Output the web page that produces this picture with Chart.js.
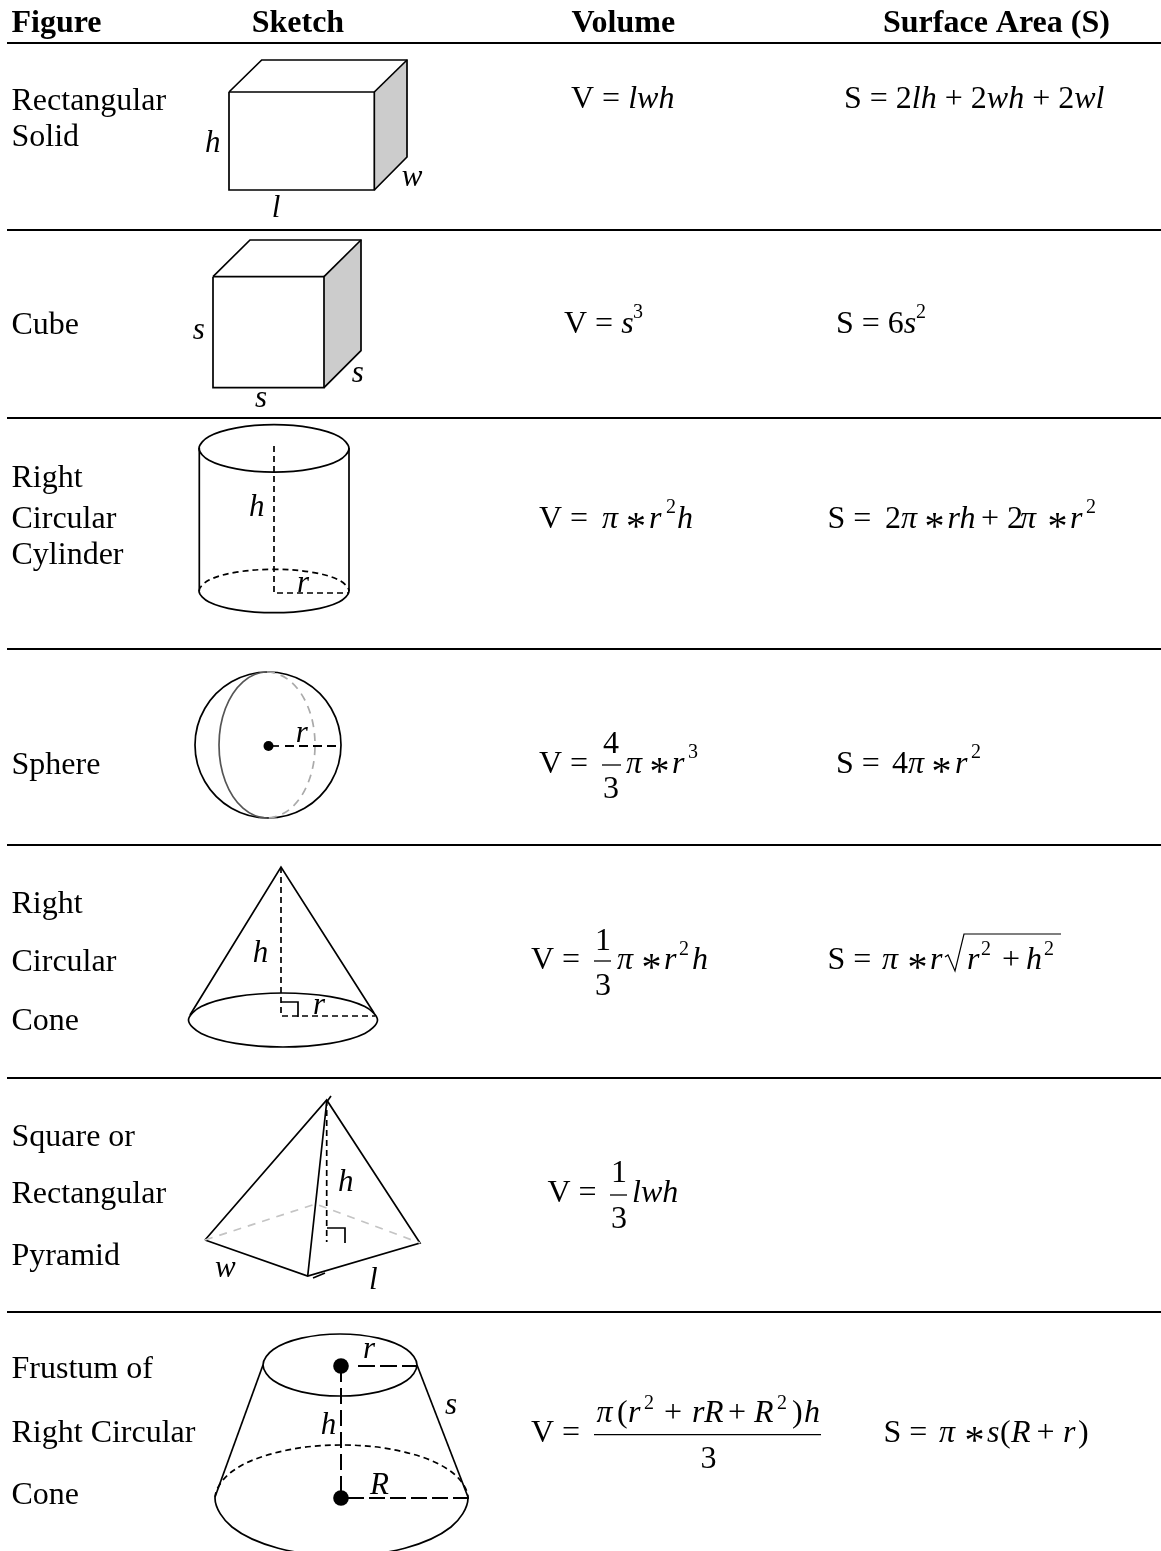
<!DOCTYPE html>
<html>
<head>
<meta charset="utf-8">
<title>Volume and Surface Area Formulas</title>
<script src="https://cdn.jsdelivr.net/npm/chart.js@4"></script>
<style>
html,body{margin:0;padding:0;background:#fff}
canvas{display:block}
</style>
</head>
<body>
<canvas id="c" width="1161" height="1551"></canvas>
<script>
/* ---------- text content ---------- */
const columnHeaders = ['Figure', 'Sketch', 'Volume', 'Surface Area (S)'];
const figureNames = ['Rectangular','Solid','Cube','Right','Circular','Cylinder','Sphere','Right','Circular','Cone','Square or','Rectangular','Pyramid','Frustum of','Right Circular','Cone'];
const sketchLabels = ['h','w','l','s','s','s','h','r','r','h','r','h','w','l','r','s','h','R'];

/* ---------- text anchors (x, baseline y) ---------- */
const headerAnchors = [[11.5,32],[251.7,32],[571.4,32],[883,32]];
const figureAnchors = [[11.5,110],[11.5,146],[11.5,334],[11.5,487],[11.5,528],[11.5,564],[11.5,774],[11.5,913],[11.5,971],[11.5,1030],[11.5,1146],[11.5,1203],[11.5,1265],[11.5,1378],[11.5,1442],[11.5,1504]];
const sketchAnchors = [[205,152],[401.7,186],[271.7,217],[192.7,339],[351.7,381.7],[255,406.7],[249,516],[297,592],[295.7,741.7],[252.7,961.7],[313,1014],[338,1190.7],[215,1276.7],[369,1289],[363,1358],[445,1414],[320.7,1434],[370,1494]];

/* ---------- formula runs: [text, style, x (null = follow on), baseline y (null = same)] ---------- */
const formulaRuns = [
  ['V = ','r',571,108],['lwh','i'],
  ['S = 2','r',844,108],['lh','i'],[' + 2','r'],['wh','i'],[' + 2','r'],['wl','i'],
  ['V = ','r',564,333],['s','i'],['3','s',633,318],
  ['S = 6','r',836,333],['s','i'],['2','s',916,318],
  ['V = ','r',539,528],['π','i',602],['*','a',626],['r','i',649],['2','s',666,513],['h','i',677,528],
  ['S = ','r',827.5,528],['2','r',885],['π','i',901],['*','a',924.5],['rh','i',947.5],['+','r',981],['2','r',1007],['π','i',1020],['*','a',1047.5],['r','i',1070],['2','s',1086,513],
  ['V = ','r',539,773],['4','r',603,753],['3','r',603,798],['π','i',626,773],['*','a',649.5],['r','i',672],['3','s',688,758],
  ['S = ','r',836,773],['4','r',892],['π','i',908],['*','a',931.5],['r','i',955],['2','s',971,758],
  ['V = ','r',531,969],['1','r',595,950],['3','r',595,995],['π','i',617,969],['*','a',641.5],['r','i',664],['2','s',679,955],['h','i',692,969],
  ['S = ','r',827.5,969],['π','i',882],['*','a',907.5],['r','i',930],['r','i',967],['2','s',981,955],['+','r',1002,969],['h','i',1026],['2','s',1044,955],
  ['V = ','r',547.5,1202],['1','r',611,1182],['3','r',611,1228],['lwh','i',632,1202],
  ['V = ','r',531,1441.5],['π','i',596.5,1422],['(','r',617],['r','i',628],['2','s',644,1409],['+','r',664,1422],['r','i',692],['R','i',704],['+','r',728],['R','i',754],['2','s',777,1409],[')','r',792,1422],['h','i',804],['3','r',700.6,1467.5],
  ['S = ','r',883.5,1441.5],['π','i',939],['*','a',964.5],['s','i',987],['(','r',1000],['R','i',1011],['+','r',1036.5],['r','i',1063],[')','r',1078]
];

/* ---------- table rules ---------- */
const ruleRows = [43,230,418,649,845,1078,1312];
const ruleStart = 7, ruleEnd = 1161;

/* ---------- grey faces ---------- */
const solidFace = [[374.3,92],[407,60],[407,157],[374.3,190],[374.3,92]];
const cubeFace  = [[324,276.7],[361,240],[361,350.7],[324,387.7],[324,276.7]];

/* ---------- straight outlines ---------- */
const solidFront = [[229,92],[374.3,92],[374.3,190],[229,190],[229,92]];
const solidTop   = [[229,92],[261.7,60],[407,60],[407,157],[374.3,190]];
const solidEdge  = [[374.3,92],[407,60]];
const cubeFront  = [[213,276.7],[324,276.7],[324,387.7],[213,387.7],[213,276.7]];
const cubeTop    = [[213,276.7],[250,240],[361,240],[361,350.7],[324,387.7]];
const cubeEdge   = [[324,276.7],[361,240]];
const cylLeft    = [[199.3,448],[199.3,591]];
const cylRight   = [[349,448],[349,591]];
const coneSides  = [[190,1015],[281,867],[374,1013]];
const coneMark   = [[281,1002],[298,1002],[298,1017]];
const pyrOutline = [[205,1240],[326.7,1100],[420,1243],[307.7,1276],[205,1240]];
const pyrRidge   = [[331,1096],[326.7,1102],[307.7,1276]];
const pyrMark    = [[327,1228],[345,1228],[345,1243]];
const pyrTick    = [[313,1278],[325,1273]];
const frustLeft  = [[263,1365],[215,1497]];
const frustRight = [[417,1365],[468,1497]];
const sqrtSign   = [[945,957],[948,955],[955,971],[964,934],[1061,934]];
const sphereBar  = [[268,746],[279,746]];

/* ---------- fraction bars ---------- */
const fractionBars = [[[602,765],[621,765]],[[594,961],[611,961]],[[610,1195],[627,1195]],[[594,1434.6],[821,1434.6]]];

/* ---------- dashed lines ---------- */
const cylAxis    = [[274,446],[274,593],[349,593]];
const sphereDash = [[285,746],[340,746]];
const coneAxis   = [[281,867],[281,1016],[375,1016]];
const pyrAxis    = [[326.7,1100],[326.7,1242]];
const pyrBack    = [[205,1240],[315.7,1204],[420,1243]];
const frustAxis  = [[341,1366],[341,1498]];
const frustSmall = [[358,1366],[417,1366]];
const frustLarge = [[348,1498],[470,1498]];

/* ---------- curved outlines: the first and last point of each only steer the spline ---------- */
const cylTop = [[209,460.3],[199,448.4],[209,436.5],[236.5,427.9],[274,424.7],[311.5,427.9],[339,436.5],[349,448.4],[339,460.3],[311.5,468.9],[274,472.1],[236.5,468.9],[209,460.3],[199,448.4],[209,436.5]];
const cylFront = [[209,580.1],[199,591],[209,601.9],[236.5,609.8],[274,612.7],[311.5,609.8],[339,601.9],[349,591],[339,580.1]];
const cylBack = [[209,601.9],[199,591],[209,580.1],[236.5,572.2],[274,569.3],[311.5,572.2],[339,580.1],[349,591],[339,601.9]];
const sphereOutline = [[204.8,781.5],[195,745],[204.8,708.5],[231.5,681.8],[268,672],[304.5,681.8],[331.2,708.5],[341,745],[331.2,781.5],[304.5,808.2],[268,818],[231.5,808.2],[204.8,781.5],[195,745],[204.8,708.5]];
const sphereNear = [[291,681.8],[267,672],[243,681.8],[225.4,708.5],[219,745],[225.4,781.5],[243,808.2],[267,818],[291,808.2]];
const sphereFar = [[243,681.8],[267,672],[291,681.8],[308.6,708.5],[315,745],[308.6,781.5],[291,808.2],[267,818],[243,808.2]];
const coneBase = [[201.2,1033.5],[188.5,1020],[201.2,1006.5],[235.75,996.6],[283,993],[330.25,996.6],[364.8,1006.5],[377.5,1020],[364.8,1033.5],[330.25,1043.4],[283,1047],[235.75,1043.4],[201.2,1033.5],[188.5,1020],[201.2,1006.5]];
const frustTop = [[273.3,1380.5],[263,1365],[273.3,1349.5],[301.5,1338.2],[340,1334],[378.5,1338.2],[406.7,1349.5],[417,1365],[406.7,1380.5],[378.5,1391.8],[340,1396],[301.5,1391.8],[273.3,1380.5],[263,1365],[273.3,1349.5]];
const frustFront = [[232,1471.5],[215,1498],[232,1527],[278.25,1548.2],[341.5,1556],[404.75,1548.2],[451,1527],[468,1498],[451,1471.5]];
const frustBack = [[232,1527],[215,1498],[232,1471.5],[278.25,1452.1],[341.5,1445],[404.75,1452.1],[451,1471.5],[468,1498],[451,1527]];

/* ---------- centre dots ---------- */
const smallDots = [[268.5,746]];
const largeDots = [[341,1366],[341,1498]];

/* ---------- dataset builders ---------- */
const toPts = a => a.map(p => ({x:p[0], y:p[1]}));
const datasets = [];
function line(arr, o) {
  datasets.push(Object.assign({
    type:'line', data:toPts(arr), borderColor:'#000', borderWidth:1.7,
    pointRadius:0, fill:false, tension:0, clip:false, borderCapStyle:'butt', borderJoinStyle:'miter',
    order:-datasets.length
  }, o || {}));
}
function curve(arr, o) {
  const last = arr.length - 1;
  line(arr, Object.assign({
    tension:0.35,
    segment:{borderColor: c => (c.p0DataIndex === 0 || c.p1DataIndex === last) ? 'transparent' : undefined}
  }, o || {}));
}
const dash = b => ({borderDash:b, borderWidth:1.7});

ruleRows.forEach(y => line([[ruleStart,y],[ruleEnd,y]], {borderWidth:2}));

[solidFace, cubeFace].forEach(a => line(a, {fill:'shape', backgroundColor:'#cccccc', borderWidth:0, borderColor:'#cccccc'}));
[solidFront, solidTop, solidEdge, cubeFront, cubeTop, cubeEdge, cylLeft, cylRight, coneSides, coneMark, pyrOutline, pyrRidge, pyrMark, pyrTick, frustLeft, frustRight, sphereBar].forEach(a => line(a));
line(sqrtSign, {borderWidth:1.2});
fractionBars.forEach(a => line(a, {borderWidth:1.3}));

line(cylAxis, dash([6,4]));
line(coneAxis, dash([6,4]));
line(pyrAxis, dash([6,4]));
line(pyrBack, {borderDash:[8,7], borderColor:'#c4c4c4'});
line(sphereDash, {borderDash:[9,5], borderWidth:2});
line(frustAxis, {borderDash:[16,6], borderWidth:2});
line(frustSmall, {borderDash:[17,5], borderWidth:1.8});
line(frustLarge, {borderDash:[16,5], borderWidth:1.8});

[cylTop, cylFront, sphereOutline, coneBase, frustTop, frustFront].forEach(a => curve(a));
curve(cylBack, dash([6,4]));
curve(frustBack, dash([6,4]));
curve(sphereNear, {borderColor:'#555555'});
curve(sphereFar, {borderColor:'#aaaaaa', borderDash:[8,6]});

function dots(arr, r) {
  datasets.push({type:'scatter', data:toPts(arr), showLine:false, pointRadius:r, pointStyle:'circle',
    pointBackgroundColor:'#000', pointBorderWidth:0, clip:false, order:-datasets.length});
}
dots(smallDots, 5);
dots(largeDots, 7.8);

/* ---------- text plugin: every label is placed through the chart's scales ---------- */
const SERIF = '"Liberation Serif","Times New Roman",serif';
const runStyles = {
  r: 'normal 32px ' + SERIF,
  i: 'italic 32px ' + SERIF,
  s: 'normal 20px ' + SERIF,
  a: 'normal 40px ' + SERIF
};
const asteriskDrop = 11;
const textPlugin = {
  id:'tableText',
  afterDatasetsDraw(chart) {
    const {ctx, scales:{x:sx, y:sy}} = chart;
    const put = (t, font, x, y) => { ctx.font = font; ctx.fillText(t, sx.getPixelForValue(x), sy.getPixelForValue(y)); };
    ctx.save();
    ctx.fillStyle = '#000';
    ctx.textBaseline = 'alphabetic';
    ctx.textAlign = 'left';
    columnHeaders.forEach((t,i) => put(t, 'bold 32px ' + SERIF, headerAnchors[i][0], headerAnchors[i][1]));
    figureNames.forEach((t,i) => put(t, runStyles.r, figureAnchors[i][0], figureAnchors[i][1]));
    sketchLabels.forEach((t,i) => put(t, 'italic 31px ' + SERIF, sketchAnchors[i][0], sketchAnchors[i][1]));
    let penX = 0, penY = 0;
    formulaRuns.forEach(([t, st, x, y]) => {
      if (x != null) penX = x;
      if (y != null) penY = y;
      put(t, runStyles[st], penX, st === 'a' ? penY + asteriskDrop : penY);
      penX += ctx.measureText(t).width;
    });
    ctx.restore();
  }
};

new Chart(document.getElementById('c'), {
  type:'line',
  data:{datasets},
  plugins:[textPlugin],
  options:{
    responsive:false,
    animation:false,
    devicePixelRatio:1,
    events:[],
    layout:{padding:0, autoPadding:false},
    plugins:{legend:{display:false}, tooltip:{enabled:false}, title:{display:false}},
    scales:{
      x:{type:'linear', display:false, min:0, max:1161},
      y:{type:'linear', display:false, min:0, max:1551, reverse:true}
    }
  }
});
</script>
</body>
</html>
